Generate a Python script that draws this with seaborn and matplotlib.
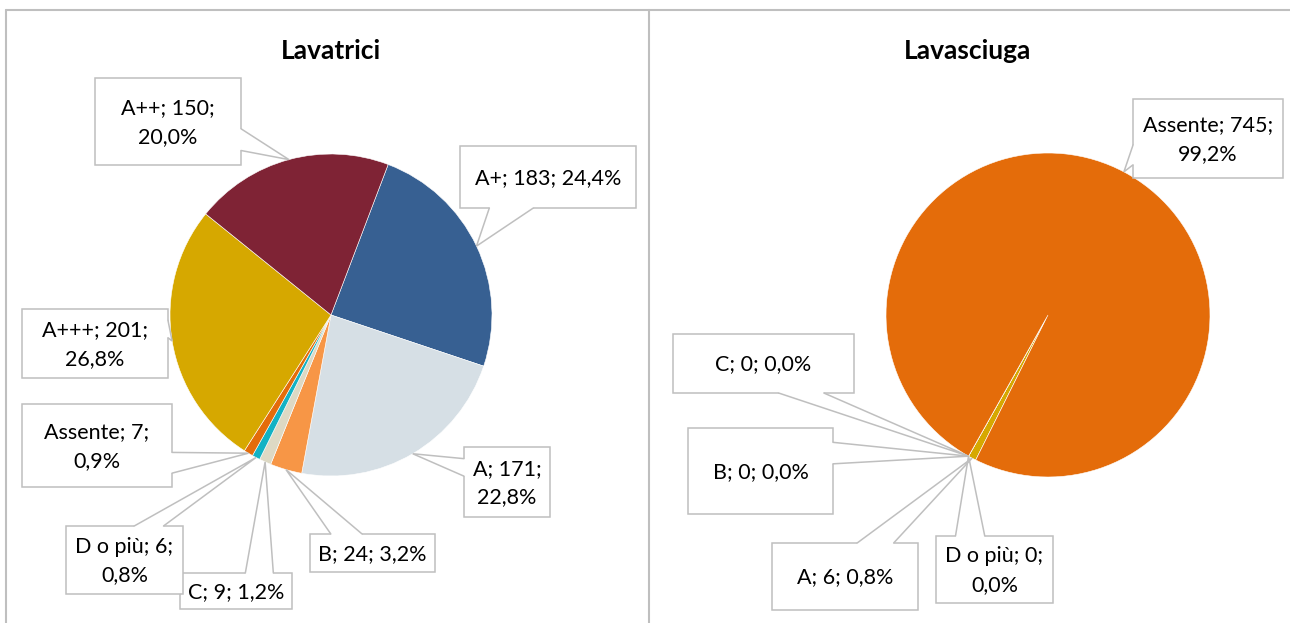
import numpy as np
import matplotlib
matplotlib.use("Agg")
import matplotlib.pyplot as plt
from matplotlib.patches import Rectangle, Polygon
import seaborn as sns

# ---- data ----
left_title = "Lavatrici"
left_labels = ["A+", "A", "B", "C", "D o più", "Assente", "A+++", "A++"]
left_counts = [183, 171, 24, 9, 6, 7, 201, 150]
left_colors = ["#376092", "#D6DFE5", "#F79646", "#DDD9C4", "#12B2C4",
               "#E46C0A", "#D6A800", "#7F2335"]

right_title = "Lavasciuga"
right_labels = ["A", "B", "C", "D o più", "Assente"]
right_counts = [6, 0, 0, 0, 745]
right_colors = ["#D6A800", "#F79646", "#DDD9C4", "#12B2C4", "#E46C0A"]

sns.set_style("white")
plt.rcParams["font.family"] = ["Lato", "DejaVu Sans"]

W, H = 1290, 623
fig = plt.figure(figsize=(W / 100, H / 100), dpi=100)

# overlay in pixel coordinates (y down) for frame and callouts
over = fig.add_axes([0, 0, 1, 1], zorder=5)
over.set_xlim(0, W)
over.set_ylim(H, 0)
over.axis("off")
over.patch.set_alpha(0)

GRAY = "#BFBFBF"


def pie_axes(cx, cy, r):
    half = 1.25 * r
    ax = fig.add_axes([(cx - half) / W, (H - cy - half) / H, 2 * half / W, 2 * half / H])
    ax.set_xlim(-1.25, 1.25)
    ax.set_ylim(-1.25, 1.25)
    ax.axis("off")
    return ax


def tip_points(ax, wedges):
    pts = []
    for w in wedges:
        mid = np.deg2rad((w.theta1 + w.theta2) / 2)
        disp = ax.transData.transform((np.cos(mid), np.sin(mid)))
        pts.append(over.transData.inverted().transform(disp))
    return pts


def callout(box, tip, text):
    x0, y0, x1, y1 = box
    w, h = x1 - x0, y1 - y0
    hc, vc = (x0 + x1) / 2, (y0 + y1) / 2
    dx, dy = tip[0] - hc, tip[1] - vc
    dq = dx * h / w
    if abs(dy) > abs(dq):
        g = (7, 10) if dx > 0 else (2, 5)
        by = y1 if dy > 0 else y0
        inn = -3 if dy > 0 else 3
        b0, b1 = (x0 + w * g[0] / 12, by), (x0 + w * g[1] / 12, by)
        i0, i1 = (b0[0], by + inn), (b1[0], by + inn)
    else:
        g = (7, 10) if dy > 0 else (2, 5)
        bx = x1 if dx > 0 else x0
        inn = -3 if dx > 0 else 3
        b0, b1 = (bx, y0 + h * g[0] / 12), (bx, y0 + h * g[1] / 12)
        i0, i1 = (bx + inn, b0[1]), (bx + inn, b1[1])
    over.add_patch(Rectangle((x0, y0), w, h, facecolor="white", edgecolor=GRAY,
                             lw=1.1, zorder=1))
    over.add_patch(Polygon([i0, b0, tip, b1, i1], closed=True, facecolor="white",
                           edgecolor="none", zorder=2))
    over.plot([b0[0], tip[0], b1[0]], [b0[1], tip[1], b1[1]], color=GRAY,
              lw=1.1, zorder=3, solid_joinstyle="miter")
    over.text(hc, vc + 1, text, ha="center", va="center", fontsize=15.5,
              color="#000000", linespacing=1.55, zorder=4)


def fmt(label, n, total, wrap):
    pct = f"{100 * n / total:.1f}%".replace(".", ",")
    sep = "\n" if wrap else " "
    return f"{label}; {n};{sep}{pct}"


# ---- left pie ----
axl = pie_axes(331, 315, 161)
wl, _ = axl.pie(left_counts, colors=left_colors, startangle=90 - 20.8,
                counterclock=False, wedgeprops=dict(edgecolor="white", linewidth=0.4))
left_boxes = {
    "A+": ((460, 146, 636, 208), False),
    "A": ((464, 447, 550, 517), True),
    "B": ((310, 534, 435, 572), False),
    "C": ((180, 573, 292, 609), False),
    "D o più": ((66, 526, 183, 594), True),
    "Assente": ((22, 404, 172, 487), True),
    "A+++": ((22, 309, 168, 378), True),
    "A++": ((95, 78, 241, 165), True),
}
tl = tip_points(axl, wl)
tot_l = sum(left_counts)
for lab, n, tip in zip(left_labels, left_counts, tl):
    box, wrap = left_boxes[lab]
    callout(box, tip, fmt(lab, n, tot_l, wrap))

# ---- right pie ----
axr = pie_axes(1048, 315, 162)
wr, _ = axr.pie(right_counts, colors=right_colors, startangle=90 - 206.5,
                counterclock=False, wedgeprops=dict(edgecolor="white", linewidth=0.4))
right_boxes = {
    "A": ((772, 543, 918, 610), False),
    "B": ((688, 428, 833, 514), False),
    "C": ((673, 334, 854, 393), False),
    "D o più": ((936, 536, 1053, 603), True),
    "Assente": ((1133, 99, 1283, 178), True),
}
tr = tip_points(axr, wr)
tot_r = sum(right_counts)
for lab, n, tip in zip(right_labels, right_counts, tr):
    box, wrap = right_boxes[lab]
    callout(box, tip, fmt(lab, n, tot_r, wrap))

# ---- titles and frame ----
over.text(331, 51, left_title, ha="center", va="center", fontsize=19,
          fontweight="bold", color="#000000")
over.text(968, 51, right_title, ha="center", va="center", fontsize=19,
          fontweight="bold", color="#000000")
over.plot([6, W], [10, 10], color=GRAY, lw=1.5, zorder=0)
over.plot([6, 6], [10, H], color=GRAY, lw=1.5, zorder=0)
over.plot([649, 649], [10, H], color=GRAY, lw=1.5, zorder=0)

fig.savefig("out.png", dpi=100)
